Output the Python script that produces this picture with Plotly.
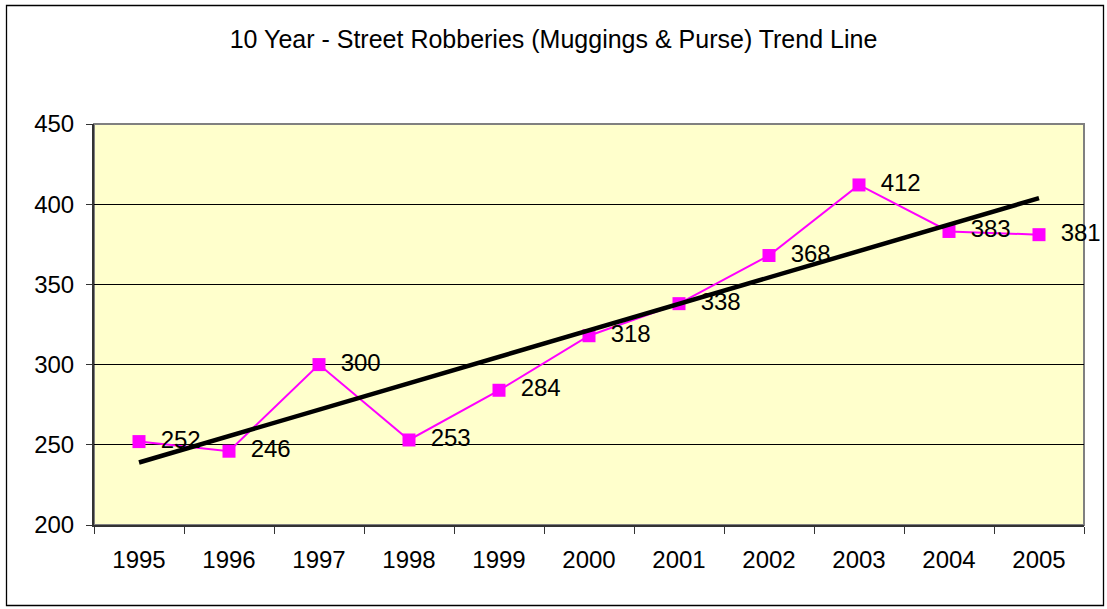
import numpy as np
import plotly.graph_objects as go

years = ["1995", "1996", "1997", "1998", "1999", "2000", "2001", "2002", "2003", "2004", "2005"]
robberies = [252, 246, 300, 253, 284, 318, 338, 368, 412, 383, 381]
y_ticks = [200, 250, 300, 350, 400, 450]
title_text = "10 Year - Street Robberies (Muggings & Purse) Trend Line"

W, H = 1107, 609
ML, MR, MT, MB = 94, 23, 124, 84
FONT = "Liberation Sans, Arial, sans-serif"

# linear trend (least squares) from the data
xi = np.arange(len(robberies))
slope, intercept = np.polyfit(xi, robberies, 1)
trend = (slope * xi + intercept).tolist()

fig = go.Figure()
fig.add_trace(go.Scatter(
    x=years, y=robberies, mode="lines+markers",
    line=dict(color="#FF00FF", width=2),
    marker=dict(symbol="square", size=13, color="#FF00FF"),
    cliponaxis=False, showlegend=False,
))
# data labels (invisible wide marker pushes text to the right)
fig.add_trace(go.Scatter(
    x=years, y=robberies, mode="markers+text",
    marker=dict(size=33, opacity=0, color="white"),
    text=[str(v) for v in robberies], textposition="middle right",
    textfont=dict(family=FONT, size=24, color="black"),
    cliponaxis=False, showlegend=False, hoverinfo="skip",
))
fig.add_trace(go.Scatter(
    x=years, y=trend, mode="lines",
    line=dict(color="black", width=4.5),
    showlegend=False, hoverinfo="skip",
))

pw = W - ML - MR
ph = H - MT - MB
def px_x(p):
    return (p - ML) / pw
def px_y(p):
    return 1 - (p - MT) / ph

shapes = [
    dict(type="rect", xref="paper", yref="paper",
         x0=px_x(6.5), x1=px_x(1103.5), y0=px_y(605.5), y1=px_y(5.5),
         line=dict(color="black", width=1.3), fillcolor="rgba(0,0,0,0)", layer="below"),
    dict(type="rect", xref="paper", yref="paper", x0=0, x1=1, y0=0, y1=1,
         line=dict(color="#808080", width=2), fillcolor="rgba(0,0,0,0)", layer="below"),
]

fig.update_layout(
    width=W, height=H,
    margin=dict(l=ML, r=MR, t=MT, b=MB, autoexpand=False),
    paper_bgcolor="white", plot_bgcolor="#FFFFCC",
    font=dict(family=FONT, size=24, color="black"),
    title=dict(text=title_text, x=0.5, xref="container", xanchor="center",
               y=1 - 39 / H, yref="container", yanchor="middle",
               font=dict(family=FONT, size=25, color="black")),
    shapes=shapes,
    xaxis=dict(type="category", range=[-0.5, len(years) - 0.5],
               tickson="boundaries", ticks="outside", ticklen=7, tickwidth=1, tickcolor="#333",
               showgrid=False, showline=True, linecolor="#333", linewidth=2,
               tickfont=dict(family=FONT, size=24, color="black"),
               ticklabelstandoff=12, zeroline=False),
    yaxis=dict(range=[200, 450], tickvals=y_ticks, ticktext=[str(v) for v in y_ticks],
               ticks="outside", ticklen=6, tickwidth=1, tickcolor="#333",
               showgrid=True, gridcolor="black", gridwidth=1,
               showline=True, linecolor="#333", linewidth=2,
               tickfont=dict(family=FONT, size=24, color="black"),
               ticklabelstandoff=7, zeroline=False),
)

fig.write_html("out.html", config={"displayModeBar": False},
               post_script="document.body.style.margin='0';")
